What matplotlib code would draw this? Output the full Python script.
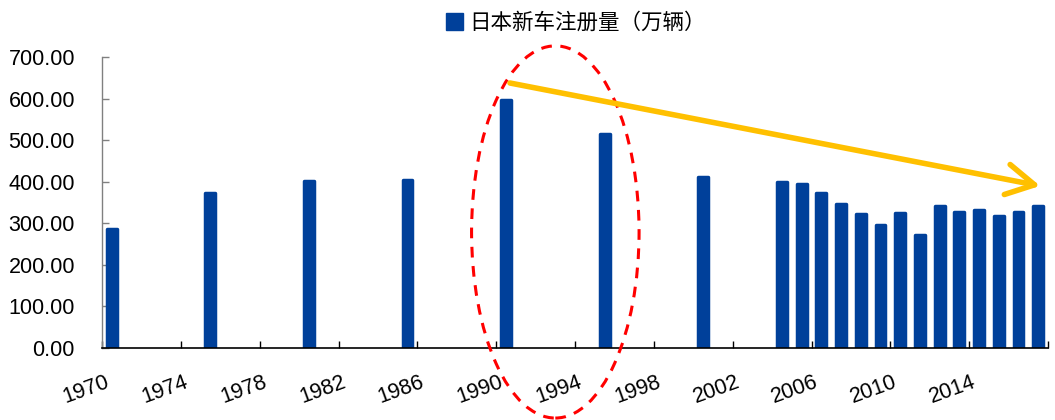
import matplotlib
matplotlib.use("Agg")
import matplotlib.pyplot as plt
from matplotlib.patches import Patch, Ellipse

plt.rcParams['font.family'] = ['Liberation Sans', 'Noto Sans CJK SC', 'DejaVu Sans']

# Annual new-vehicle registrations in Japan (10k units)
all_years = list(range(1970, 2018))
bar_years = [1970, 1975, 1980, 1985, 1990, 1995, 2000,
             2004, 2005, 2006, 2007, 2008, 2009, 2010,
             2011, 2012, 2013, 2014, 2015, 2016, 2017]
registrations = [285, 373, 401, 405, 597, 516, 411,
                 399, 395, 374, 346, 323, 295, 325,
                 271, 342, 328, 331, 318, 327, 342]
label_years = list(range(1970, 2018, 4))
y_ticks = [0, 100, 200, 300, 400, 500, 600, 700]
series_name = "日本新车注册量（万辆）"

BLUE = "#00409A"
YELLOW = "#FFC000"
RED = "#FF0000"

fig = plt.figure(figsize=(10.55, 4.2), dpi=100)
ax = fig.add_axes([0.0967, 0.1721, 0.8967, 0.6915])

pos = [all_years.index(y) for y in bar_years]
ax.bar(pos, registrations, width=0.5, color=BLUE, edgecolor=BLUE,
       linewidth=2.5, joinstyle='round', zorder=2)

ax.set_xlim(-0.5, len(all_years) - 0.5)
ax.set_ylim(0, 700)

# y axis
ax.set_yticks(y_ticks)
ax.set_yticklabels([f"{v:.2f}" for v in y_ticks])
ax.tick_params(axis='y', direction='in', length=5, width=1, color='#808080',
               labelsize=15.5, pad=19.5, labelcolor='black')

# x axis: labels at category centres, tick marks on category boundaries
ax.set_xticks([all_years.index(y) for y in label_years])
ax.set_xticklabels([str(y) for y in label_years], rotation=20, ha='right')
ax.tick_params(axis='x', which='major', length=0, labelsize=15.5, pad=17)
ax.set_xticks([i - 0.5 for i in range(0, len(all_years) + 1, 4)], minor=True)
ax.tick_params(axis='x', which='minor', direction='in', length=5, width=1,
               color='black')

for s in ('top', 'right'):
    ax.spines[s].set_visible(False)
ax.spines['left'].set_color('#808080')
ax.spines['left'].set_linewidth(1)
ax.spines['bottom'].set_color('black')
ax.spines['bottom'].set_linewidth(1.2)
ax.spines['bottom'].set_zorder(3)

# legend
fig.legend(handles=[Patch(facecolor=BLUE, edgecolor=BLUE)], labels=[series_name],
           loc='center', bbox_to_anchor=(0.546, 0.945), frameon=False,
           handlelength=0.8, handleheight=0.8, handletextpad=0.3,
           prop={'family': ['Noto Sans CJK SC', 'DejaVu Sans'], 'size': 15.5})

# declining-trend arrow
ax.annotate("", xy=(47.1, 390), xytext=(20.2, 638),
            arrowprops=dict(arrowstyle='->,head_length=1.0,head_width=0.55',
                            color=YELLOW, lw=4, shrinkA=0, shrinkB=0,
                            mutation_scale=20, capstyle='round',
                            joinstyle='round'),
            annotation_clip=False, zorder=5)

# highlight around the 1990-1995 peak
ell = Ellipse((22.5, 279), width=8.5, height=897, fill=False, edgecolor=RED,
              lw=2.2, ls=(0, (3.5, 2.8)), clip_on=False, zorder=4)
ax.add_patch(ell)

fig.savefig("out.png", dpi=100)
